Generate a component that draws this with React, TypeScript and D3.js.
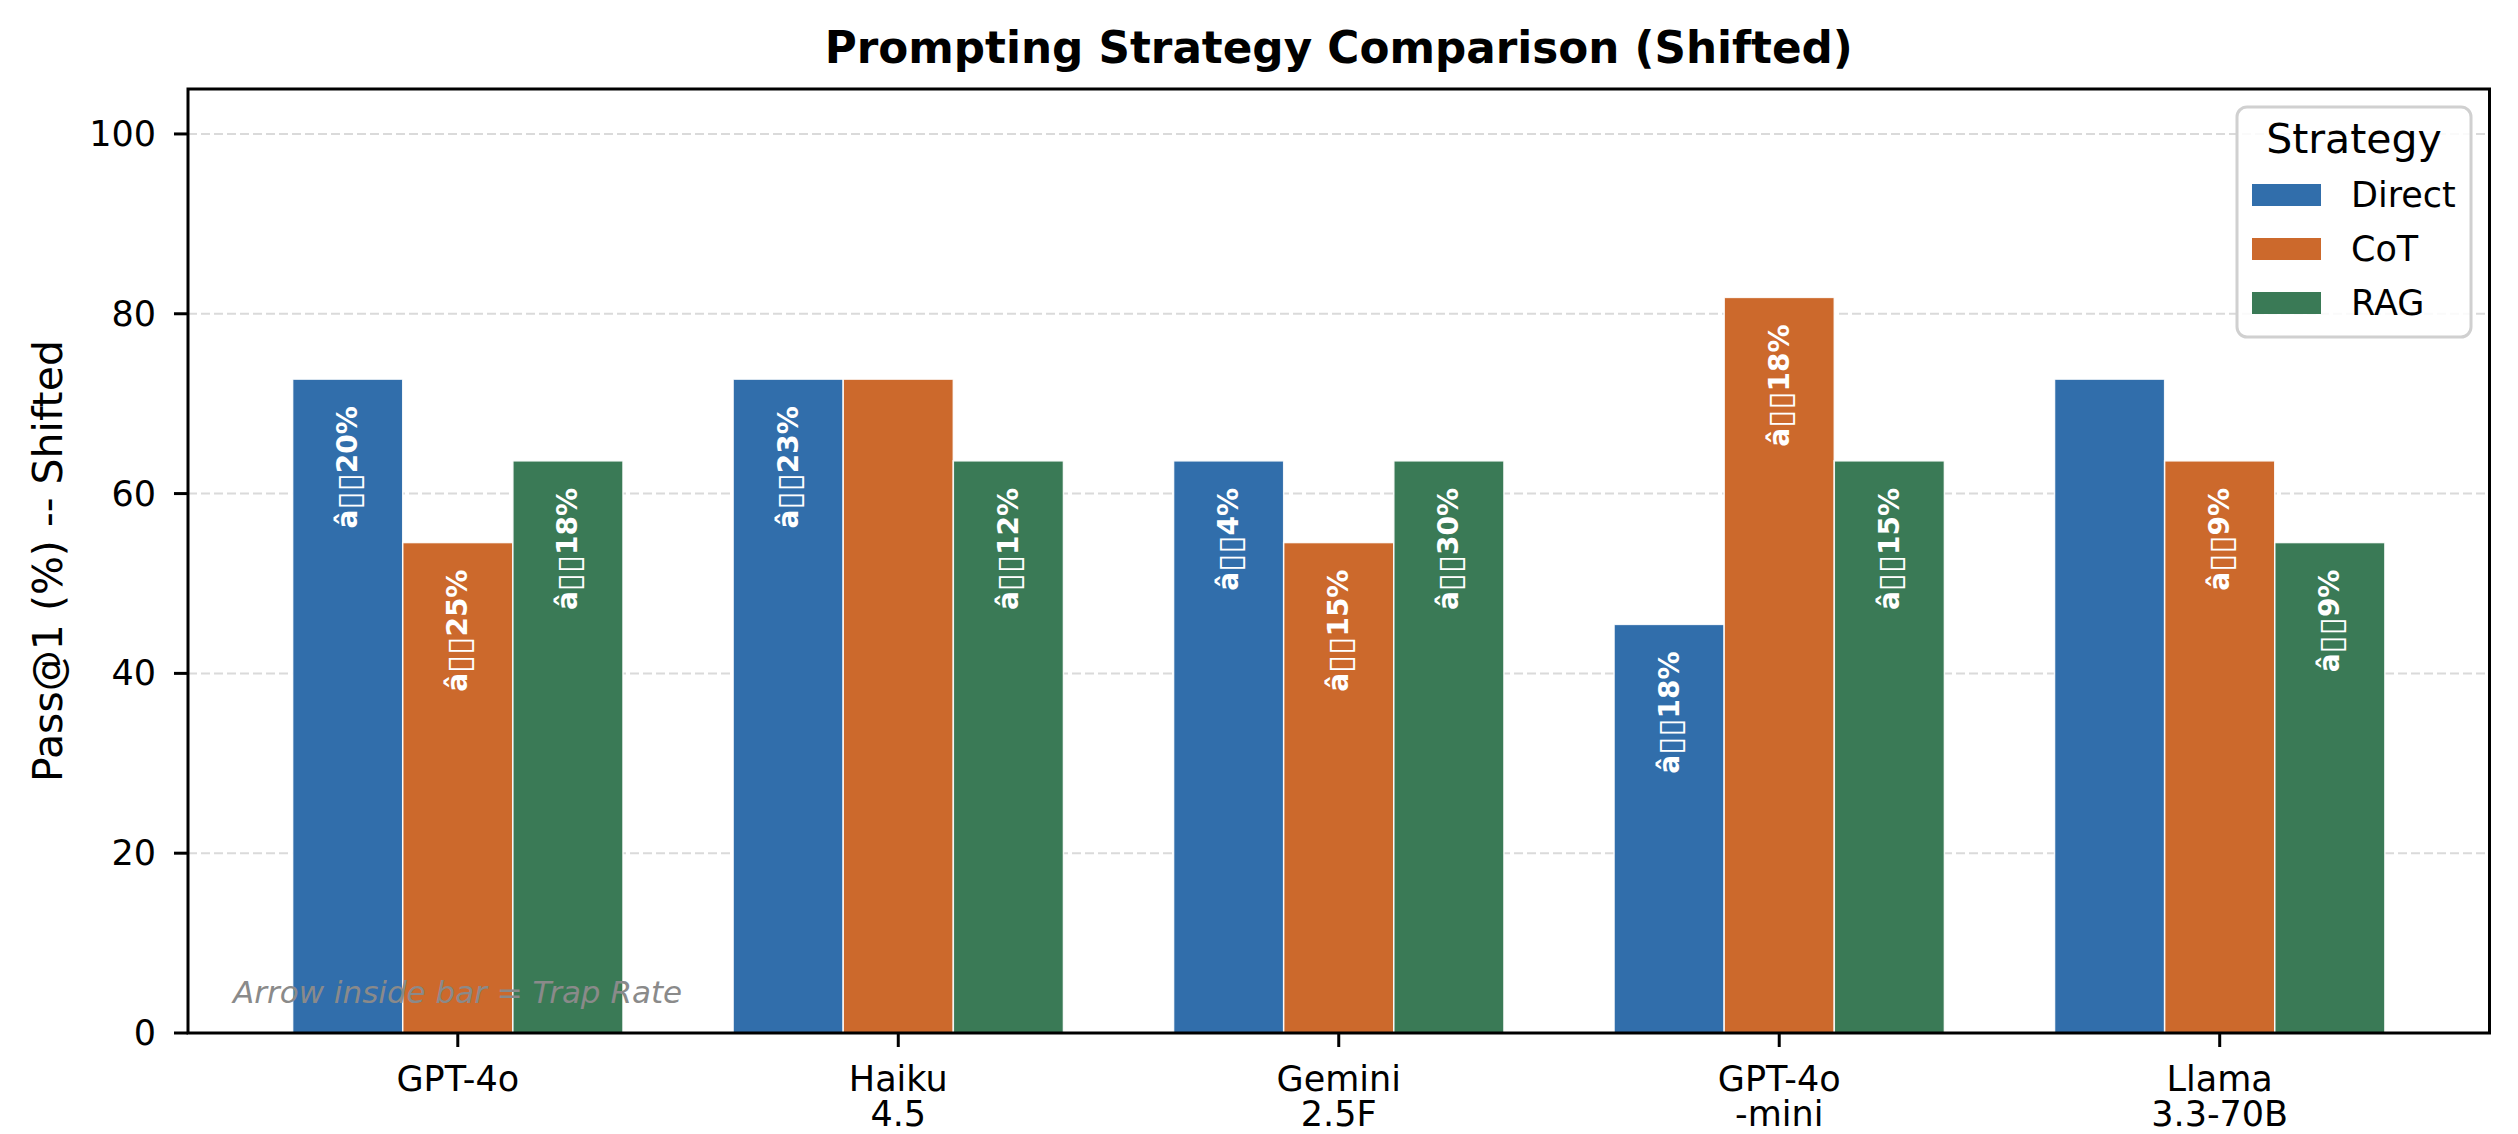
import React from "react";
import * as d3 from "d3";

const categories = ["GPT-4o", "Haiku\n4.5", "Gemini\n2.5F", "GPT-4o\n-mini", "Llama\n3.3-70B"];
const strategies = ["Direct", "CoT", "RAG"];
const colors = ["#316EAB", "#CC692C", "#3A7A56"];
const directValues = [72.73, 72.73, 63.64, 45.45, 72.73];
const cotValues = [54.55, 72.73, 54.55, 81.82, 63.64];
const ragValues = [63.64, 63.64, 63.64, 63.64, 54.55];
const directTrap = [20, 23, 4, 18, null];
const cotTrap = [25, null, 15, 18, 9];
const ragTrap = [18, 12, 30, 15, 9];
const yTicks = [0, 20, 40, 60, 80, 100];

const W = 2518;
const H = 1134;
const L = 188, R = 2489.5, T = 89, B = 1033;
const FONT = "'DejaVu Sans', sans-serif";
const PREFIX = "\u00e2";
const BOXES = "\u25af\u25af";

export default function App() {
  const barW = 0.25;
  const x = d3.scaleLinear().domain([-0.6125, categories.length - 1 + 0.6125]).range([L, R]);
  const y = d3.scaleLinear().domain([0, 105]).range([B, T]);
  const series = [directValues, cotValues, ragValues];
  const traps = [directTrap, cotTrap, ragTrap];
  const pxW = x(barW) - x(0);

  return (
    <div style={{ position: "absolute", left: 0, top: 0 }}>
      <svg width={W} height={H} style={{ display: "block", background: "#fff" }} fontFamily={FONT}>
        {/* grid */}
        {yTicks.map((t) => (
          <line key={"g" + t} x1={L} x2={R} y1={y(t)} y2={y(t)} stroke="#dadada" strokeWidth={2} strokeDasharray="9,4" />
        ))}
        {/* bars */}
        {series.map((vals, si) =>
          vals.map((v, ci) => {
            const cx = x(ci + (si - 1) * barW);
            return (
              <rect key={`b${si}-${ci}`} x={cx - pxW / 2} y={y(v)} width={pxW} height={y(0) - y(v)}
                fill={colors[si]} stroke="#ffffff" strokeWidth={1.5} strokeOpacity={0.9} />
            );
          })
        )}
        {/* bar labels */}
        {traps.map((arr, si) =>
          arr.map((tr, ci) => {
            if (tr === null) return null;
            const cx = x(ci + (si - 1) * barW);
            const top = y(series[si][ci]) + 27;
            return (
              <text key={`l${si}-${ci}`} transform={`translate(${cx},${top}) rotate(-90)`} textAnchor="end"
                dominantBaseline="central" fill="#fff" fontWeight="bold" fontSize={28}>
                {PREFIX}
                <tspan fontSize={33} fontWeight="normal">{BOXES}</tspan>
                {tr + "%"}
              </text>
            );
          })
        )}
        {/* annotation */}
        <text x={233} y={1003} fontSize={31} fontStyle="italic" fill="#8a8a8a">Arrow inside bar = Trap Rate</text>
        {/* spines */}
        <rect x={L} y={T} width={R - L} height={B - T} fill="none" stroke="#000" strokeWidth={3} />
        {/* y ticks */}
        {yTicks.map((t) => (
          <g key={"yt" + t}>
            <line x1={L - 14} x2={L} y1={y(t)} y2={y(t)} stroke="#000" strokeWidth={3} />
            <text x={156} y={y(t)} textAnchor="end" dominantBaseline="central" fontSize={35}>{t}</text>
          </g>
        ))}
        {/* x ticks */}
        {categories.map((c, ci) => (
          <g key={"xt" + ci}>
            <line x1={x(ci)} x2={x(ci)} y1={B} y2={B + 14} stroke="#000" strokeWidth={3} />
            {c.split("\n").map((line, li) => (
              <text key={li} x={x(ci)} y={1091 + li * 35} textAnchor="middle" fontSize={35}>{line}</text>
            ))}
          </g>
        ))}
        {/* y label */}
        <text transform={`translate(62,${(T + B) / 2}) rotate(-90)`} textAnchor="middle" fontSize={41}>
          Pass@1 (%) -- Shifted
        </text>
        {/* title */}
        <text x={(L + R) / 2} y={63} textAnchor="middle" fontSize={43.7} fontWeight="bold">
          Prompting Strategy Comparison (Shifted)
        </text>
        {/* legend */}
        <g>
          <rect x={2237} y={107} width={234} height={230} rx={10} ry={10} fill="#fff" fillOpacity={0.85}
            stroke="#d0d0d0" strokeWidth={3} />
          <text x={2354} y={153} textAnchor="middle" fontSize={41}>Strategy</text>
          {strategies.map((s, i) => (
            <g key={"lg" + s}>
              <rect x={2252} y={195 + i * 54 - 11} width={69} height={22} fill={colors[i]} />
              <text x={2351} y={195 + i * 54} dominantBaseline="central" fontSize={35}>{s}</text>
            </g>
          ))}
        </g>
      </svg>
    </div>
  );
}
